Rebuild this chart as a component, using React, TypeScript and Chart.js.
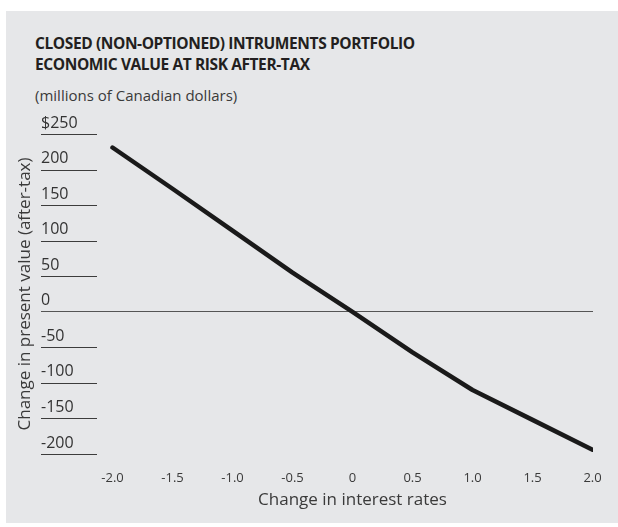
import React, { useEffect, useRef } from "react";
import { Chart, registerables } from "chart.js";

Chart.register(...registerables);

const titleLines = [
  "CLOSED (NON-OPTIONED) INTRUMENTS PORTFOLIO",
  "ECONOMIC VALUE AT RISK AFTER-TAX",
];
const subtitle = "(millions of Canadian dollars)";
const xAxisTitle = "Change in interest rates";
const yAxisTitle = "Change in present value (after-tax)";

const rateChanges = [-2.0, -1.5, -1.0, -0.5, 0, 0.5, 1.0, 1.5, 2.0];
const valueChanges = [231, 173, 114, 55, 0, -57, -110, -152, -194];

const xTickValues = [-2.0, -1.5, -1.0, -0.5, 0, 0.5, 1.0, 1.5, 2.0];
const xTickLabels = ["-2.0", "-1.5", "-1.0", "-0.5", "0", "0.5", "1.0", "1.5", "2.0"];
const yTickValues = [250, 200, 150, 100, 50, 0, -50, -100, -150, -200];
const yTickLabels = ["$250", "200", "150", "100", "50", "0", "-50", "-100", "-150", "-200"];

const FONT = "'Open Sans', 'DejaVu Sans', sans-serif";

const extras = {
  id: "extras",
  afterDraw(chart: any) {
    const ys = chart.scales.y;
    const xs = chart.scales.x;
    const area = chart.chartArea;
    const ctx = chart.ctx;
    ctx.save();
    ctx.strokeStyle = "#3c3c3c";
    ctx.lineWidth = 1;
    yTickValues.forEach((v) => {
      if (v === 0) return;
      const py = Math.round(ys.getPixelForValue(v)) + 0.5;
      ctx.beginPath();
      ctx.moveTo(area.left, py);
      ctx.lineTo(area.left + 56, py);
      ctx.stroke();
    });
    ctx.fillStyle = "#3a3a3a";
    ctx.font = "17px " + FONT;
    ctx.textAlign = "center";
    ctx.textBaseline = "middle";
    ctx.fillText(xAxisTitle, xs.getPixelForValue(0), area.bottom + 46);
    ctx.restore();
  },
};

export default function App() {
  const ref = useRef<HTMLCanvasElement | null>(null);

  useEffect(() => {
    if (!ref.current) return;
    const chart = new Chart(ref.current, {
      type: "line",
      data: {
        datasets: [
          {
            data: rateChanges.map((x, i) => ({ x, y: valueChanges[i] })),
            borderColor: "#1a1a1a",
            borderWidth: 4.5,
            borderCapStyle: "round",
            borderJoinStyle: "round",
            pointRadius: 0,
            tension: 0,
            fill: false,
          },
        ],
      },
      options: {
        animation: false,
        responsive: false,
        maintainAspectRatio: false,
        layout: { padding: { top: 134, left: 10, right: 25, bottom: 29 } },
        plugins: {
          legend: { display: false },
          tooltip: { enabled: false },
          title: { display: false },
        },
        scales: {
          x: {
            type: "linear",
            min: -2.596,
            max: 2.004,
            afterBuildTicks: (scale: any) => {
              scale.ticks = xTickValues.map((v) => ({ value: v }));
            },
            afterFit: (scale: any) => {
              scale.height = 44;
            },
            grid: { display: false, drawTicks: false },
            border: { display: false },
            ticks: {
              padding: 16,
              maxRotation: 0,
              autoSkip: false,
              color: "#3a3a3a",
              font: { family: FONT, size: 13 },
              callback: (v: any) => {
                const i = xTickValues.indexOf(Number(v));
                return i >= 0 ? xTickLabels[i] : "";
              },
            },
          },
          y: {
            type: "linear",
            min: -200,
            max: 250,
            afterBuildTicks: (scale: any) => {
              scale.ticks = yTickValues.map((v) => ({ value: v }));
            },
            afterFit: (scale: any) => {
              scale.width = 31;
            },
            grid: {
              drawTicks: false,
              color: (c: any) => (c.tick && c.tick.value === 0 ? "#555555" : "rgba(0,0,0,0)"),
              lineWidth: 1,
            },
            border: { display: false },
            ticks: {
              mirror: true,
              padding: 0,
              labelOffset: -11,
              color: "#333333",
              font: { family: FONT, size: 16 },
              callback: (v: any) => {
                const i = yTickValues.indexOf(Number(v));
                return i >= 0 ? yTickLabels[i] : "";
              },
            },
            title: {
              display: true,
              text: yAxisTitle,
              color: "#3a3a3a",
              font: { family: FONT, size: 17 },
              padding: { top: 5, bottom: 5 },
            },
          },
        },
      },
      plugins: [extras],
    });
    return () => chart.destroy();
  }, []);

  return (
    <div style={{ position: "absolute", left: 0, top: 0, width: 618, height: 527, background: "#ffffff" }}>
      <div style={{ position: "absolute", left: 6, top: 11, width: 612, height: 512, background: "#e6e7e9" }} />
      <div
        style={{
          position: "absolute",
          left: 35,
          top: 33,
          fontFamily: FONT,
          fontWeight: 700,
          fontSize: 15.5,
          letterSpacing: "-0.4px",
          lineHeight: "21px",
          color: "#231f20",
          whiteSpace: "nowrap",
        }}
      >
        {titleLines.map((t) => (
          <div key={t}>{t}</div>
        ))}
      </div>
      <div
        style={{
          position: "absolute",
          left: 35,
          top: 85,
          fontFamily: FONT,
          fontSize: 15,
          lineHeight: "20px",
          color: "#3a3a3a",
          whiteSpace: "nowrap",
        }}
      >
        {subtitle}
      </div>
      <canvas ref={ref} width={618} height={527} style={{ position: "absolute", left: 0, top: 0 }} />
    </div>
  );
}
